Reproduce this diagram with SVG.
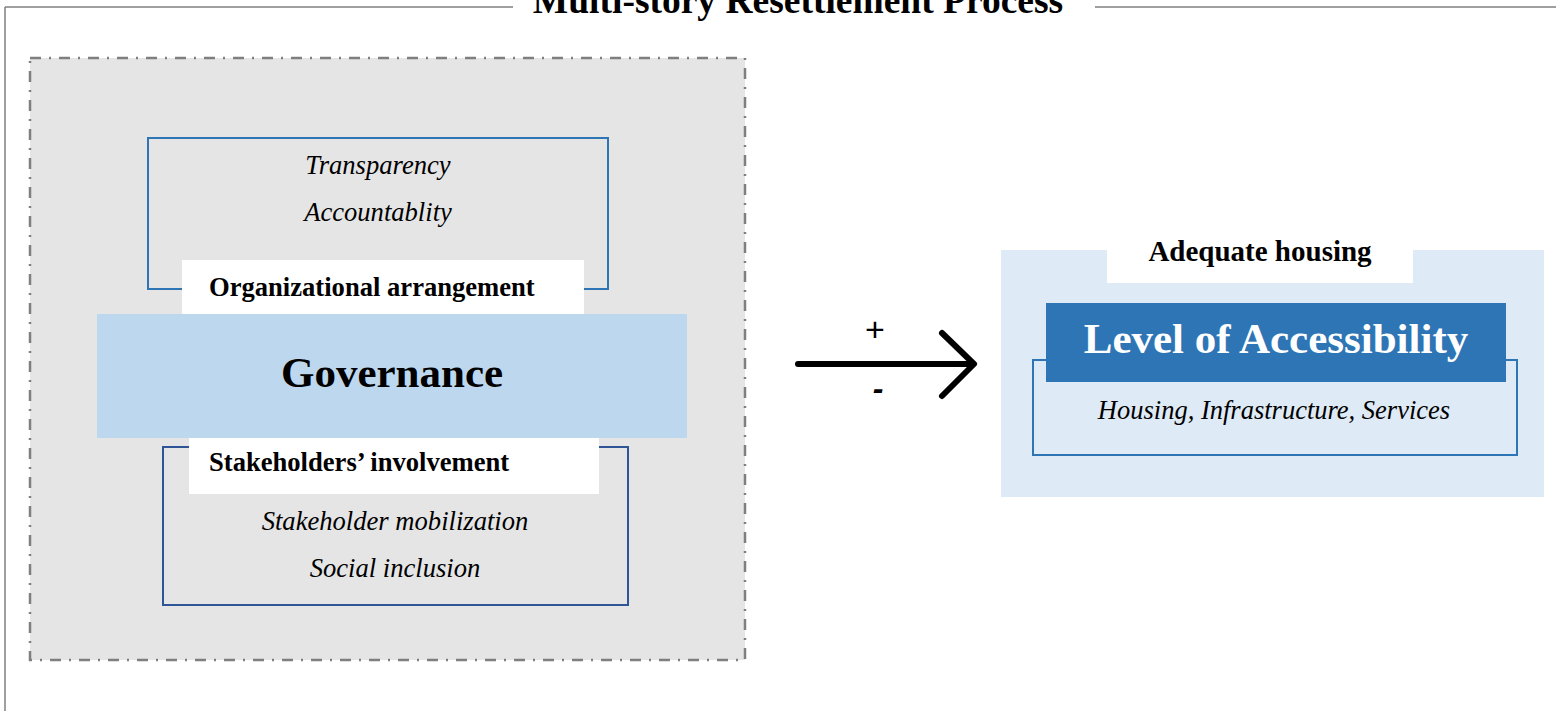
<svg xmlns="http://www.w3.org/2000/svg" width="1556" height="711" viewBox="0 0 1556 711">
  <style>
    .serif { font-family: "Liberation Serif", "Times New Roman", serif; }
    .b { font-weight: bold; }
    .lbl { font-family: "Liberation Serif", serif; font-weight: bold; font-size: 26.6px; fill: #000; }
    .it { font-family: "Liberation Serif", serif; font-style: italic; font-size: 26.6px; fill: #000; text-anchor: middle; }
    .frame { stroke: #7f7f7f; stroke-width: 1.5; fill: none; }
  </style>
  <rect width="1556" height="711" fill="#ffffff"/>
  <g id="frame">
    <line class="frame" x1="5" y1="7" x2="513" y2="7"/>
    <line class="frame" x1="1095" y1="7" x2="1556" y2="7"/>
    <line class="frame" x1="5" y1="7" x2="5" y2="711"/>
    <text x="798" y="13" text-anchor="middle" class="serif b" font-size="37.5">Multi-story Resettlement Process</text>
  </g>
  <g id="governance-panel">
    <rect x="30" y="58" width="715" height="602" fill="#e5e5e5" stroke="#7f7f7f" stroke-width="2.5" stroke-dasharray="11,8,2,8"/>
  </g>
  <g id="organizational">
    <rect x="148" y="138" width="460" height="151" fill="none" stroke="#2e75b6" stroke-width="2"/>
    <text x="378" y="174" class="it">Transparency</text>
    <text x="378" y="221" class="it">Accountablity</text>
    <rect x="182" y="260" width="402" height="58" fill="#ffffff"/>
    <text x="209" y="296" class="lbl">Organizational arrangement</text>
  </g>
  <g id="stakeholders">
    <rect x="163" y="447" width="465" height="158" fill="none" stroke="#2f5597" stroke-width="2"/>
    <rect x="189" y="435" width="410" height="59" fill="#ffffff"/>
    <text x="209" y="471" class="lbl">Stakeholders’ involvement</text>
    <text x="395" y="530" class="it">Stakeholder mobilization</text>
    <text x="395" y="577" class="it">Social inclusion</text>
  </g>
  <g id="governance">
    <rect x="97" y="314" width="590" height="124" fill="#bdd7ee"/>
    <text x="392" y="387" text-anchor="middle" class="serif b" font-size="43">Governance</text>
  </g>
  <g id="connectors">
    <line x1="798" y1="364" x2="972" y2="364" stroke="#000" stroke-width="6" stroke-linecap="round"/>
    <polyline points="942,333 974,364 942,396" fill="none" stroke="#000" stroke-width="6" stroke-linecap="round" stroke-linejoin="round"/>
    <text x="875" y="341" text-anchor="middle" font-family="Liberation Sans, Arial, sans-serif" font-size="34">+</text>
    <text x="878" y="399" text-anchor="middle" font-family="Liberation Sans, Arial, sans-serif" font-weight="bold" font-style="italic" font-size="32">-</text>
  </g>
  <g id="accessibility">
    <rect x="1001" y="250" width="543" height="247" fill="#deeaf6"/>
    <rect x="1107" y="250" width="306" height="33" fill="#ffffff"/>
    <text x="1260" y="261" text-anchor="middle" class="serif b" font-size="29">Adequate housing</text>
    <rect x="1033" y="360" width="484" height="95" fill="none" stroke="#2e75b6" stroke-width="2"/>
    <rect x="1046" y="303" width="460" height="79" fill="#2e75b6"/>
    <text x="1276" y="353" text-anchor="middle" class="serif b" font-size="43" fill="#ffffff">Level of Accessibility</text>
    <text x="1274" y="419" text-anchor="middle" font-family="Liberation Serif, serif" font-style="italic" font-size="26.5">Housing, Infrastructure, Services</text>
  </g>
</svg>
